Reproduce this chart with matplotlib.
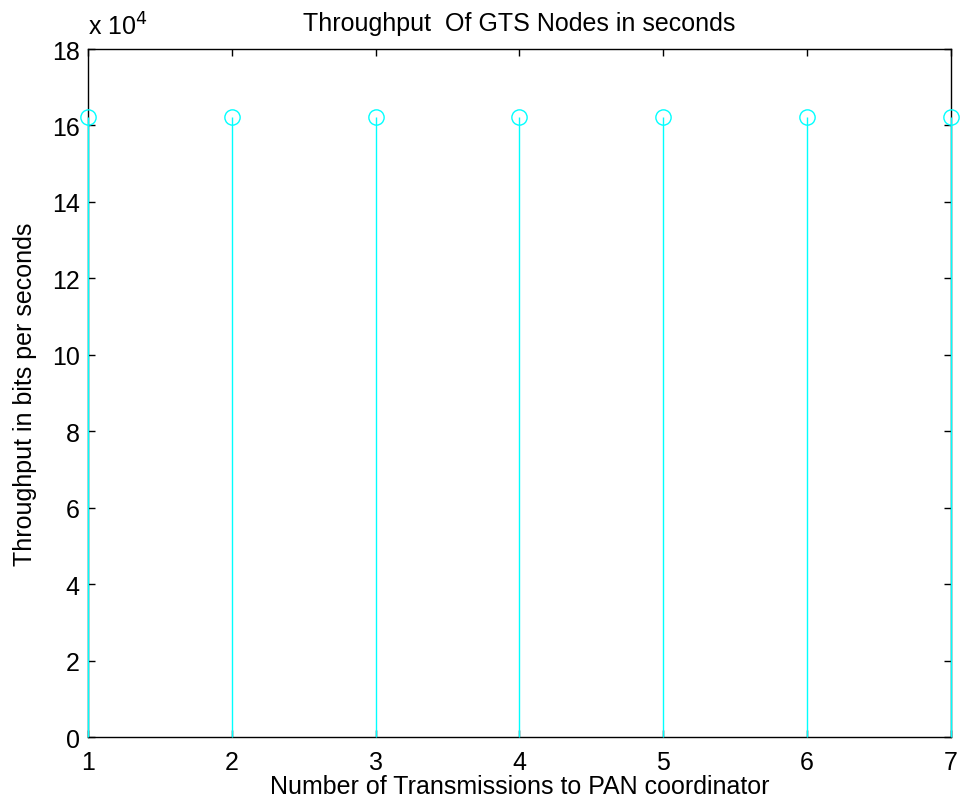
import matplotlib.pyplot as plt
from matplotlib.ticker import FuncFormatter

transmissions = [1, 2, 3, 4, 5, 6, 7]
throughput = [162200, 162200, 162200, 162200, 162200, 162200, 162200]
y_ticks = [0, 20000, 40000, 60000, 80000, 100000, 120000, 140000, 160000, 180000]

plt.rcParams['font.family'] = ['Liberation Sans', 'DejaVu Sans']

fig = plt.figure(figsize=(9.63, 8.12), dpi=100)
ax = fig.add_axes([0.0914, 0.0911, 0.8961, 0.8473])

markers, stems, base = ax.stem(transmissions, throughput, linefmt='-', markerfmt='o', basefmt=' ')
stems.set_color('#00ffff')
stems.set_linewidth(1)
stems.set_clip_on(False)
stems.set_zorder(3)
markers.set_color('#00ffff')
markers.set_markerfacecolor('none')
markers.set_markersize(11)
markers.set_markeredgewidth(1)
markers.set_clip_on(False)
markers.set_zorder(3)

ax.set_xlim(1, 7)
ax.set_ylim(0, 180000)
ax.set_xticks(transmissions)
ax.set_yticks(y_ticks)
ax.yaxis.set_major_formatter(FuncFormatter(lambda v, p: f"{v / 1e4:g}"))
ax.tick_params(direction='in', top=True, right=True, labelsize=18, length=5, width=1)
ax.tick_params(axis='x', pad=9)
ax.tick_params(axis='y', pad=6)
for s in ax.spines.values():
    s.set_linewidth(1)

# MATLAB style exponent label above the y axis
ax.text(0, 1.014, r'x 10$^{4}$', transform=ax.transAxes, fontsize=18, ha='left', va='bottom')
ax.set_title('Throughput  Of GTS Nodes in seconds', fontsize=18, pad=14)
ax.set_xlabel('Number of Transmissions to PAN coordinator', fontsize=18, labelpad=0)
ax.set_ylabel('Throughput in bits per seconds', fontsize=18, labelpad=11)

fig.savefig('out.png', dpi=100)
